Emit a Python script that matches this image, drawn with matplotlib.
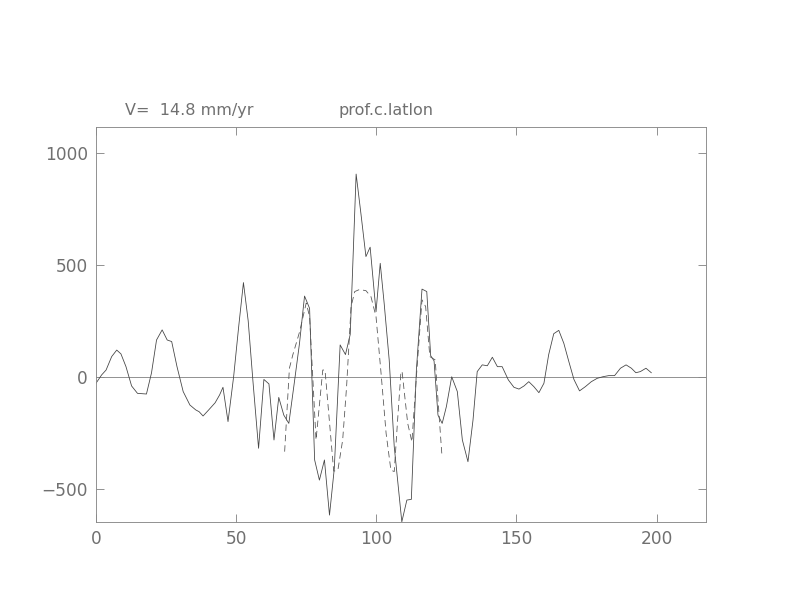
import numpy as np
import matplotlib.pyplot as plt

# solid profile (observed)
x_obs = [0, 2, 3.6, 5.6, 7.4, 8.9, 10.7, 12.7, 14.8, 18, 19.8, 21.6, 23.6, 25.4, 27,
         28.9, 31.1, 33.5, 35.6, 36.8, 38.2, 40.2, 42.5, 44.1, 45.3, 47.1, 49.1, 50.9,
         52.6, 54.3, 56, 58, 59.9, 61.7, 63.5, 65.2, 67, 68.8, 70.8, 72.6, 74.4, 76.2,
         78, 79.7, 81.5, 83.3, 85, 87.1, 89, 90.7, 92.8, 94.5, 96.3, 97.8, 99.9, 101.4,
         102.8, 104.6, 106.4, 109.1, 110.9, 112.5, 114.3, 116.3, 118, 119.4, 120.6, 122,
         123.5, 125, 126.9, 128.9, 130.7, 132.7, 134.5, 136, 137.8, 139.6, 141.4, 143.2,
         144.9, 147.1, 149.1, 150.9, 152.7, 154.4, 156.2, 158, 159.8, 161.5, 163.3,
         165.1, 166.9, 168.7, 170.5, 172.5, 174.6, 176.7, 178.8, 180.8, 182.9, 185,
         187.1, 189.1, 191, 192.6, 194.2, 196.2, 198.1]
y_obs = [-28, 9, 31, 91, 120, 103, 46, -40, -73, -76, 18, 165, 210, 165, 158,
         46, -65, -125, -147, -155, -174, -147, -115, -80, -46, -199, 1, 224,
         421, 250, -20, -318, -11, -31, -281, -91, -170, -207, -21, 150, 361, 306,
         -370, -460, -370, -616, -410, 143, 100, 190, 905, 730, 537, 579, 291, 507,
         329, 76, -311, -646, -549, -546, 31, 392, 381, 95, 72, -170,
         -207, -132, 1, -65, -281, -378, -192, 24, 54, 50, 88, 46,
         46, -13, -46, -54, -40, -21, -43, -70, -28, 100, 193,
         208, 150, 68, -11, -62, -43, -21, -6, 1, 6, 6,
         39, 54, 39, 19, 24, 39, 19]

# dashed profile (model)
x_mod = [67.3, 69, 70.2, 72.6, 75, 76.2, 78.5, 80.9, 81.7, 84.8, 86.3, 88, 89.4, 91,
         92.3, 94, 96.3, 98.1, 99.9, 101.7, 103.5, 105.2, 106.4, 107.6, 108.8, 109.2,
         111.2, 112.7, 114.3, 116.3, 117.6, 119.1, 121, 123.4]
y_mod = [-333, 39, 98, 200, 330, 269, -281, 31, 31, -420, -415, -281, -43, 314,
         381, 390, 385, 358, 269, 16, -252, -415, -422, -192, 24, 24,
         -207, -289, 1, 344, 314, 91, 76, -348]

xticks = [0, 50, 100, 150, 200]
yticks = [-500, 0, 500, 1000]

fig = plt.figure(figsize=(11, 8.5), dpi=72)
ax = fig.add_axes([0.1212, 0.147, 0.7698, 0.6455])

gray = '#888888'
txt = '#707070'

ax.axhline(0, color=gray, lw=0.9)
ax.plot(x_obs, y_obs, color='#444444', lw=0.8)
ax.plot(x_mod, y_mod, color='#555555', lw=0.8, dashes=(8, 5))

ax.set_xlim(0, 217.5)
ax.set_ylim(-647, 1115)
ax.set_xticks(xticks)
ax.set_yticks(yticks)
ax.set_yticklabels(['\u2212500', '0', '500', '1000'])

for s in ax.spines.values():
    s.set_color(gray)
    s.set_linewidth(0.9)
ax.tick_params(direction='in', length=8, width=0.9, color=gray,
               labelcolor=txt, labelsize=17, pad=8,
               top=True, right=True)

fig.text(125 / 792, 1 - 110 / 612, 'V=  14.8 mm/yr', fontsize=16, color=txt,
         va='center', ha='left')
fig.text(338 / 792, 1 - 110 / 612, 'prof.c.latlon', fontsize=16, color=txt,
         va='center', ha='left')

fig.savefig('out.png', dpi=72)
